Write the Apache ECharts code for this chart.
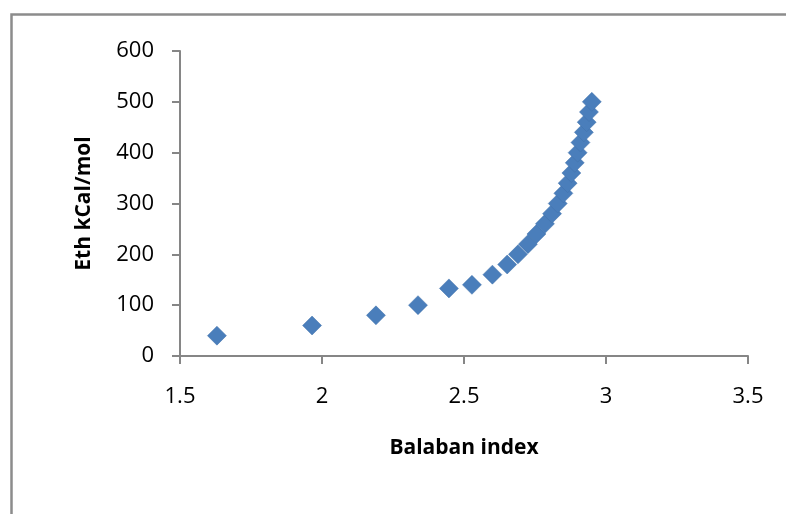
<!DOCTYPE html>
<html>
<head>
<meta charset="utf-8">
<script src="https://cdn.jsdelivr.net/npm/echarts@6/dist/echarts.min.js"></script>
<style>
html,body{margin:0;padding:0;background:#fff;}
#c{width:786px;height:514px;}
</style>
</head>
<body>
<div id="c"></div>
<script>
var balabanIndex = [1.63, 1.965, 2.19, 2.338, 2.447, 2.528, 2.60, 2.652, 2.69, 2.725, 2.755, 2.785, 2.81, 2.83, 2.85, 2.865, 2.878, 2.89, 2.90, 2.91, 2.922, 2.932, 2.94, 2.95];
var ethValues = [40, 60, 80, 100, 133, 140, 160, 180, 200, 220, 240, 260, 280, 300, 320, 340, 360, 380, 400, 420, 440, 460, 480, 500];
var xTicks = [1.5, 2, 2.5, 3, 3.5];
var yTicks = [0, 100, 200, 300, 400, 500, 600];

var points = balabanIndex.map(function (x, i) { return [x, ethValues[i]]; });
var font = '"Open Sans", "Liberation Sans", sans-serif';
var chart = echarts.init(document.getElementById('c'));
chart.setOption({
  animation: false,
  backgroundColor: '#fff',
  graphic: [{
    type: 'rect', left: 9, top: 12, z: -1,
    shape: { width: 800, height: 600 },
    style: { fill: 'none', stroke: '#8c8c8c', lineWidth: 2.5 }
  }],
  grid: { left: 180, right: 38, top: 51, bottom: 158 },
  xAxis: {
    type: 'value', min: 1.5, max: 3.5, interval: 0.5,
    name: 'Balaban index', nameLocation: 'middle', nameGap: 82,
    nameTextStyle: { fontFamily: font, fontWeight: 'bold', fontSize: 21, color: '#000' },
    axisLine: { show: true, lineStyle: { color: '#868686', width: 2 } },
    axisTick: { show: true, length: 8, lineStyle: { color: '#868686', width: 2 } },
    axisLabel: { margin: 30, fontFamily: font, fontSize: 22, color: '#000',
      formatter: function (v) { return xTicks.indexOf(v) >= 0 ? String(v) : ''; } },
    splitLine: { show: false }
  },
  yAxis: {
    type: 'value', min: 0, max: 600, interval: 100,
    name: 'Eth kCal/mol', nameLocation: 'middle', nameGap: 85, nameRotate: 90,
    nameTextStyle: { fontFamily: font, fontWeight: 'bold', fontSize: 21, color: '#000' },
    axisLine: { show: true, lineStyle: { color: '#868686', width: 2 } },
    axisTick: { show: true, length: 8, lineStyle: { color: '#868686', width: 2 } },
    axisLabel: { margin: 26, fontFamily: font, fontSize: 22, color: '#000',
      formatter: function (v) { return yTicks.indexOf(v) >= 0 ? String(v) : ''; } },
    splitLine: { show: false }
  },
  series: [{
    type: 'scatter',
    data: points,
    symbol: 'diamond',
    symbolSize: [19, 19],
    itemStyle: { color: '#4a7ebb', borderColor: '#4272ab', borderWidth: 0.5, opacity: 1 }
  }]
});
</script>
</body>
</html>
